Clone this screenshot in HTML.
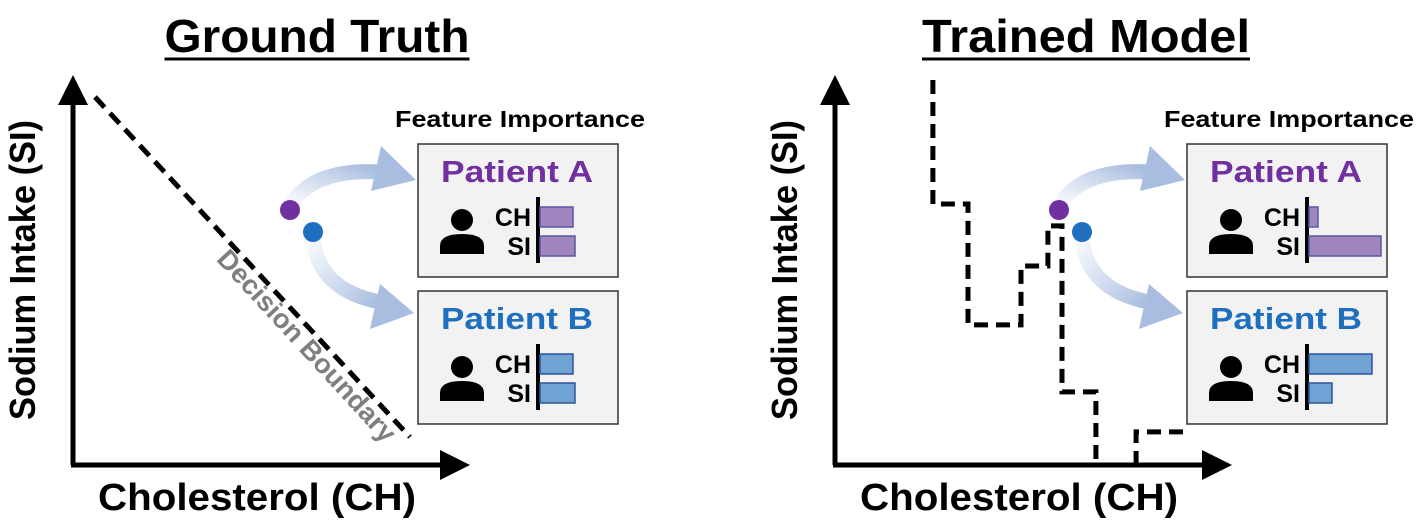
<!DOCTYPE html>
<html><head><meta charset="utf-8"><style>
html,body{margin:0;padding:0;background:#fff;}
svg{display:block;font-family:"Liberation Sans",sans-serif;font-weight:bold;}
</style></head><body>
<svg id="fig" width="1420" height="532" viewBox="0 0 1420 532">
<defs>
<marker id="ah" markerWidth="6" markerHeight="6" refX="3" refY="3" orient="auto"><path d="M0,0 L6,3 L0,6 z" fill="#000"/></marker>
<linearGradient id="g1" x1="0" y1="1" x2="1" y2="0"><stop offset="0" stop-color="#b4c6e7" stop-opacity="0.1"/><stop offset="1" stop-color="#a9bde0"/></linearGradient>
<linearGradient id="g2" x1="0" y1="0" x2="1" y2="1"><stop offset="0" stop-color="#b4c6e7" stop-opacity="0.1"/><stop offset="1" stop-color="#a9bde0"/></linearGradient>
</defs>
<g id="left"></g>
<g id="right"></g>
</svg>
<script>
// Feature importance values (bar lengths)
const features = ['CH','SI'];
const gtA = [33, 35];
const gtB = [33, 35];
const tmA = [9, 72];
const tmB = [63, 23];
// Trained-model step boundary points (chart coordinates, 0..100)
const stepX1 = [25.1, 25.1, 34.1, 34.1, 47.7, 47.7, 54.6, 54.6, 58.2, 58.2, 66.9, 66.9];
const stepY1 = [100, 67.8, 67.8, 36.4, 36.4, 51.7, 51.7, 62.1, 62.1, 19, 19, 0];
const stepX2 = [77.2, 77.2, 91];
const stepY2 = [0, 8.6, 8.6];

const NS='http://www.w3.org/2000/svg';
function el(parent, tag, attrs, text){
  const e=document.createElementNS(NS,tag);
  for(const k in attrs) e.setAttribute(k,attrs[k]);
  if(text!==undefined) e.textContent=text;
  parent.appendChild(e); return e;
}
function panel(g, ox, title, titleW, A, B, ax0){
  const t=el(g,'text',{x:ox+317,y:52,'font-size':46,'text-anchor':'middle',textLength:titleW,lengthAdjust:'spacingAndGlyphs'},title);
  
  
  const ul=el(g,'line',{x1:ox+317-titleW/2,x2:ox+317+titleW/2,y1:59,y2:59,stroke:'#000','stroke-width':3});
  
  
  const yx=ax0, xe=ax0+392;
  const ya=el(g,'line',{x1:yx,y1:465,x2:yx,y2:90,stroke:'#000','stroke-width':5,'marker-end':'url(#ah)'});
  
  
  const xa=el(g,'line',{x1:yx-2,y1:465,x2:xe-10,y2:465,stroke:'#000','stroke-width':5,'marker-end':'url(#ah)'});
  
  
  const yt=el(g,'text',{x:0,y:0,'font-size':36,'text-anchor':'middle',transform:`translate(${yx-38},270) rotate(-90)`,textLength:300,lengthAdjust:'spacingAndGlyphs'},'Sodium Intake (SI)');
  
  
  const xt=el(g,'text',{x:yx+184,y:510,'font-size':38,'text-anchor':'middle',textLength:318,lengthAdjust:'spacingAndGlyphs'},'Cholesterol (CH)');
  
  
  const fi=el(g,'text',{x:ox+520,y:127,'font-size':23,'text-anchor':'middle',textLength:250,lengthAdjust:'spacingAndGlyphs'},'Feature Importance');
  
  
  const a1=el(g,'path',{d:`M${ox+292},203 Q${ox+315},168 ${ox+382},172`,fill:'none',stroke:'url(#g1)','stroke-width':15});
  
  
  el(g,'polygon',{points:`${ox+381},146 ${ox+416},180 ${ox+371},191`,fill:'#a9bde0'});
  const a2=el(g,'path',{d:`M${ox+313},238 Q${ox+318},290 ${ox+380},302`,fill:'none',stroke:'url(#g2)','stroke-width':15});
  
  
  el(g,'polygon',{points:`${ox+380},284 ${ox+414},313 ${ox+370},329`,fill:'#a9bde0'});
  const d1=el(g,'circle',{cx:ox+290,cy:210,r:10,fill:'#7030a0'});
  
  
  const d2=el(g,'circle',{cx:ox+313,cy:232,r:10,fill:'#1f6fbf'});
  
  
  [[A,144,'Patient A','#7030a0','#a185bf','#5b57a0'],[B,291,'Patient B','#1f6fbf','#6fa3d3','#2f5597']].forEach(([vals,by,name,tc,fc,sc])=>{
    const bg=el(g,'g',{});
    
    
    el(bg,'rect',{x:ox+418,y:by,width:200,height:133,fill:'#f2f2f2',stroke:'#333','stroke-width':1.5});
    const nt=el(bg,'text',{x:ox+517,y:by+38,'font-size':31,'text-anchor':'middle',fill:tc,textLength:152,lengthAdjust:'spacingAndGlyphs'},name);
    
    
    const pi=el(bg,'g',{});
    
    
    el(pi,'circle',{cx:ox+462,cy:by+76,r:11,fill:'#000'});
    el(pi,'path',{d:`M${ox+440},${by+110} L${ox+440},${by+102} Q${ox+440},${by+90} ${ox+462},${by+90} Q${ox+484},${by+90} ${ox+484},${by+102} L${ox+484},${by+110} Z`,fill:'#000'});
    el(bg,'line',{x1:ox+538,x2:ox+538,y1:by+53,y2:by+119,stroke:'#000','stroke-width':4});
    features.forEach((f,i)=>{
      const yy=by+63+i*29;
      const lb=el(bg,'text',{x:ox+531,y:yy+19,'font-size':25,'text-anchor':'end'},f);
      
      
      const br=el(bg,'rect',{x:ox+540,y:yy,width:vals[i],height:20,fill:fc,stroke:sc,'stroke-width':1.5});
      
      
    });
  });
}
const L=document.getElementById('left'), R=document.getElementById('right');
panel(L,0,'Ground Truth',305,gtA,gtB,73);
panel(R,769,'Trained Model',328,tmA,tmB,835);
const db=el(L,'line',{x1:95,y1:97,x2:410,y2:437,stroke:'#000','stroke-width':5,'stroke-dasharray':'14,8'});


const dt=el(L,'text',{x:0,y:0,'font-size':27,fill:'#7f7f7f','text-anchor':'middle',transform:'translate(300,352) rotate(47.5)',textLength:250,lengthAdjust:'spacingAndGlyphs'},'Decision Boundary');


function sx(v){return 835+v*3.9;}
function sy(v){return 465-v*3.85;}
function poly(xs,ys){return xs.map((x,i)=>sx(x).toFixed(1)+','+sy(ys[i]).toFixed(1)).join(' ');}
const s1=el(R,'polyline',{points:poly(stepX1,stepY1),fill:'none',stroke:'#000','stroke-width':5,'stroke-dasharray':'14,8'});


const s2=el(R,'polyline',{points:poly(stepX2,stepY2),fill:'none',stroke:'#000','stroke-width':5,'stroke-dasharray':'14,8'});


</script>
</body></html>
